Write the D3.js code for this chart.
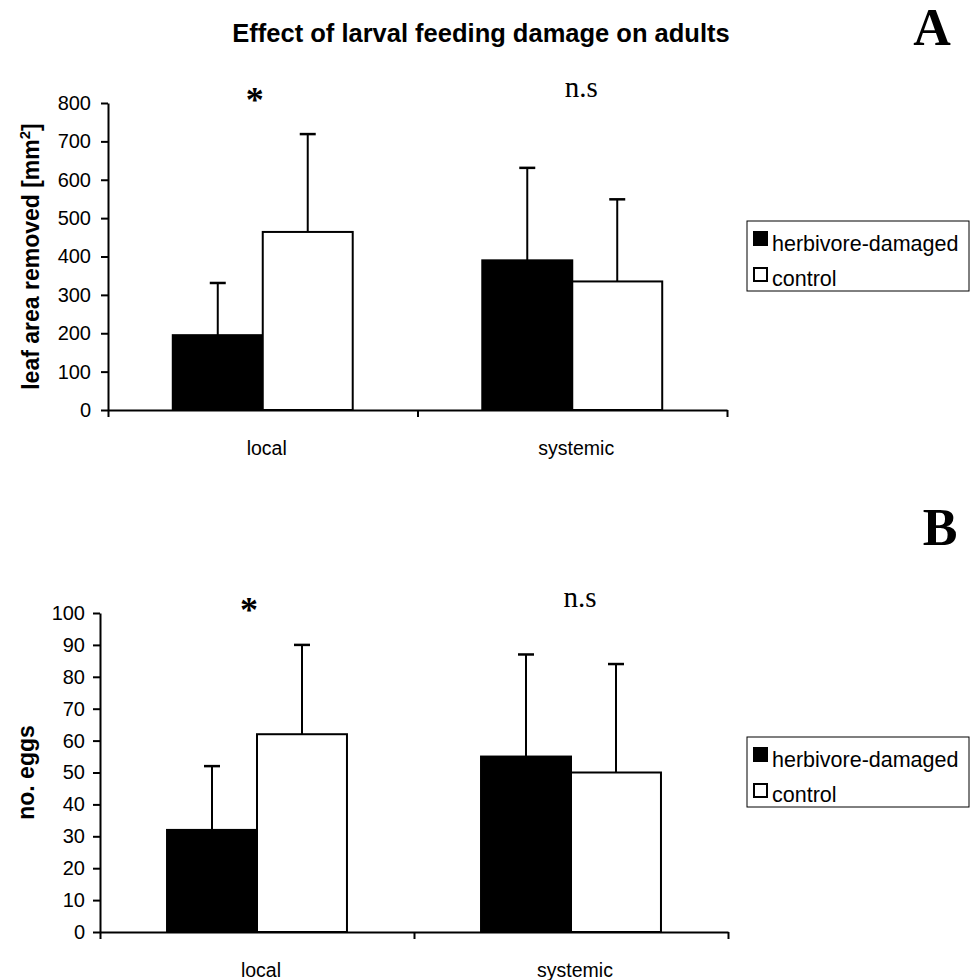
<!DOCTYPE html>
<html>
<head>
<meta charset="utf-8">
<script src="https://cdn.jsdelivr.net/npm/d3@7"></script>
<style>
body { margin: 0; background: #fff; }
text { font-family: "Liberation Sans", Arial, sans-serif; }
</style>
</head>
<body>
<svg width="971" height="980"></svg>
<script>
// data
var categories = ["local", "systemic"];
var series = ["herbivore-damaged", "control"];

var leafMeans = [[195, 464], [390, 335]];
var leafErrors = [[136, 255], [241, 214]];
var leafTicks = [0, 100, 200, 300, 400, 500, 600, 700, 800];
var leafSig = ["*", "n.s"];

var eggMeans = [[32, 62], [55, 50]];
var eggErrors = [[20, 28], [32, 34]];
var eggTicks = [0, 10, 20, 30, 40, 50, 60, 70, 80, 90, 100];
var eggSig = ["*", "n.s"];

var fills = ["#000", "#fff"];
var serif = '"Liberation Serif", "Times New Roman", serif';

var svg = d3.select("svg");

svg.append("text")
    .attr("x", 481).attr("y", 42)
    .attr("text-anchor", "middle")
    .style("font-size", "25.5px").style("font-weight", "bold")
    .text("Effect of larval feeding damage on adults");

function panel(opt) {
    var g = svg.append("g");
    var y = d3.scaleLinear().domain([0, opt.max]).range([opt.bottom, opt.top]);
    var x0 = d3.scaleBand().domain(categories).range([opt.left, opt.right]);
    var x1 = d3.scaleBand().domain(series).range([0, x0.bandwidth()]).paddingOuter(opt.pad);
    var xb = d3.scaleLinear().domain([0, categories.length]).range([opt.left, opt.right]);

    // bars with upper error bars
    categories.forEach(function(c, i) {
        series.forEach(function(s, j) {
            var bx = x0(c) + x1(s);
            var v = opt.means[i][j];
            var e = opt.errors[i][j];
            var cx = bx + x1.bandwidth() / 2;
            g.append("line")
                .attr("x1", cx).attr("x2", cx)
                .attr("y1", y(v)).attr("y2", y(v + e))
                .attr("stroke", "#000").attr("stroke-width", 2);
            g.append("line")
                .attr("x1", cx - 8).attr("x2", cx + 8)
                .attr("y1", y(v + e)).attr("y2", y(v + e))
                .attr("stroke", "#000").attr("stroke-width", 2.5);
            g.append("rect")
                .attr("x", bx).attr("y", y(v))
                .attr("width", x1.bandwidth()).attr("height", y(0) - y(v))
                .attr("fill", fills[j]).attr("stroke", "#000").attr("stroke-width", 2);
        });
    });

    // y axis
    var ya = g.append("g")
        .attr("transform", "translate(" + opt.left + ",0)")
        .call(d3.axisLeft(y).tickValues(opt.ticks).tickSize(7).tickSizeOuter(0).tickPadding(opt.tickPad));
    ya.selectAll("path, line").attr("stroke", "#000").attr("stroke-width", 2);
    ya.selectAll("text").style("font-size", "20px").attr("fill", "#000")
        .style("font-family", '"Liberation Sans", Arial, sans-serif');

    // x axis, ticks sit between categories
    var xa = g.append("g")
        .attr("transform", "translate(0," + opt.bottom + ")")
        .call(d3.axisBottom(xb).ticks(categories.length).tickFormat("").tickSize(7).tickSizeOuter(0));
    xa.selectAll("path, line").attr("stroke", "#000").attr("stroke-width", 2);

    g.selectAll(".cat").data(categories).enter().append("text")
        .attr("x", function(d) { return x0(d) + x0.bandwidth() / 2 + 4; })
        .attr("y", opt.bottom + 45)
        .attr("text-anchor", "middle")
        .style("font-size", "19.5px")
        .text(function(d) { return d; });

    // significance marks
    categories.forEach(function(c, i) {
        var s = opt.sig[i];
        var star = s === "*";
        g.append("text")
            .attr("x", x0(c) + x0.bandwidth() / 2 + (star ? -8 : 9))
            .attr("y", star ? opt.top + 9 : opt.top - 6)
            .attr("text-anchor", "middle")
            .style("font-family", serif)
            .style("font-size", star ? "36px" : "29px")
            .style("font-weight", star ? "bold" : "normal")
            .text(s);
    });

    // y label
    g.append("text")
        .attr("transform", "translate(" + opt.labelX + "," + ((opt.top + opt.bottom) / 2) + ") rotate(-90)")
        .attr("text-anchor", "middle")
        .style("font-size", "23px").style("font-weight", "bold")
        .call(opt.label);

    // legend
    var lg = g.append("g").attr("transform", "translate(747," + opt.legendY + ")");
    lg.append("rect").attr("width", 222).attr("height", 70)
        .attr("fill", "#fff").attr("stroke", "#000").attr("stroke-width", 1);
    series.forEach(function(s, j) {
        lg.append("rect")
            .attr("x", 7).attr("y", 11 + j * 36)
            .attr("width", 13).attr("height", 13)
            .attr("fill", fills[j]).attr("stroke", "#000").attr("stroke-width", 2);
        lg.append("text")
            .attr("x", 25).attr("y", 30 + j * 35)
            .style("font-size", "21.5px")
            .text(s);
    });

    // panel letter
    svg.append("text")
        .attr("x", opt.letterX).attr("y", opt.letterY)
        .attr("text-anchor", "middle")
        .style("font-family", serif).style("font-size", "52px").style("font-weight", "bold")
        .text(opt.letter);
}

panel({
    means: leafMeans, errors: leafErrors, ticks: leafTicks, sig: leafSig, max: 800,
    left: 108, right: 727, top: 103, bottom: 410, pad: 0.72, tickPad: 10,
    labelX: 39, legendY: 221, letter: "A", letterX: 932, letterY: 45,
    label: function(t) {
        t.append("tspan").text("leaf area removed [mm");
        t.append("tspan").attr("dy", -9).style("font-size", "15px").text("2");
        t.append("tspan").attr("dy", 9).text("]");
    }
});

panel({
    means: eggMeans, errors: eggErrors, ticks: eggTicks, sig: eggSig, max: 100,
    left: 100, right: 728, top: 613, bottom: 932, pad: 0.745, tickPad: 8,
    labelX: 34, legendY: 737, letter: "B", letterX: 940, letterY: 545,
    label: function(t) { t.text("no. eggs"); }
});
</script>
</body>
</html>
